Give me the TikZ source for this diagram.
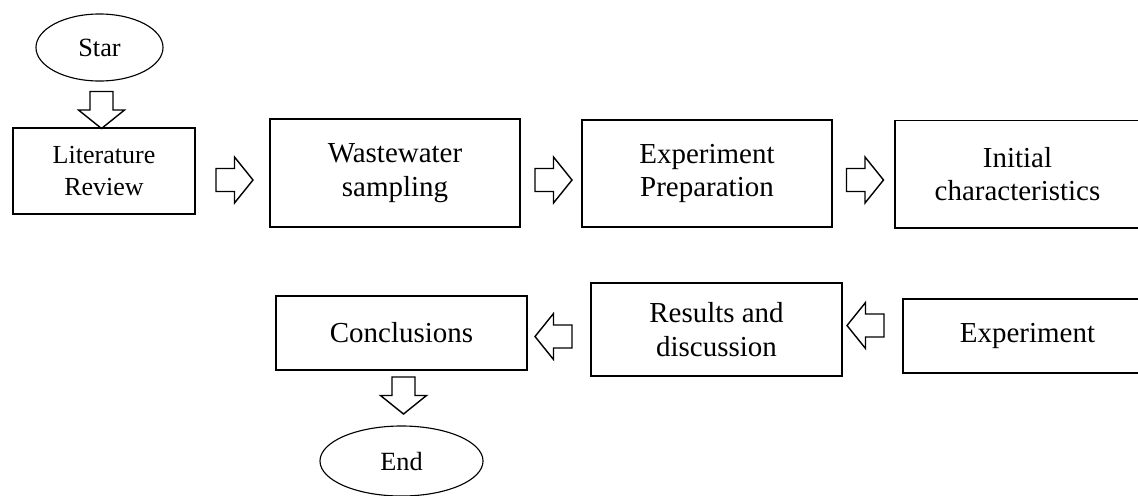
\documentclass[tikz,border=0pt]{standalone}
\usepackage{fontspec}
\setmainfont{Liberation Serif}
\usetikzlibrary{shapes.geometric}

\begin{document}
\begin{tikzpicture}[
  x=0.025cm, y=-0.025cm,
  stage/.style={draw, line width=1.4pt, align=center, inner sep=2pt,
    font=\fontsize{20.6}{23.7}\selectfont},
  smallstage/.style={stage, font=\fontsize{18.5}{22.5}\selectfont},
  terminal/.style={draw, ellipse, line width=.8pt, inner sep=0pt,
    font=\fontsize{18.7}{22}\selectfont},
  pics/fatarrow/.style={code={
    \draw[line width=1pt, line join=miter]
      (-18.5,-11.5) -- (0,-11.5) -- (0,-23) -- (18.5,0)
      -- (0,23) -- (0,11.5) -- (-18.5,11.5) -- cycle;}}
]
  \useasboundingbox (0,0) rectangle (1138,495);
  \clip (0,0) rectangle (1138,495);

  % start and first row
  \node[terminal, minimum width=3.175cm, minimum height=1.675cm] (star) at (99.5,47.5) {Star};
  \node[smallstage, minimum width=4.55cm, minimum height=2.15cm] (lit) at (104,171)
    {Literature\\Review};
  \node[stage, minimum width=6.25cm, minimum height=2.7cm] (waste) at (395,173)
    {Wastewater\\sampling};
  \node[stage, minimum width=6.25cm, minimum height=2.675cm] (prep) at (707,173.5)
    {Experiment\\Preparation};
  \node[stage, minimum width=6.125cm, minimum height=2.675cm] (init) at (1017.5,174)
    {Initial\\characteristics};

  % second row and end
  \node[stage, minimum width=6.225cm, minimum height=1.85cm] (exper) at (1027.5,336)
    {Experiment};
  \node[stage, minimum width=6.275cm, minimum height=2.325cm] (results) at (716.5,329.5)
    {Results and\\discussion};
  \node[stage, minimum width=6.275cm, minimum height=1.85cm] (concl) at (401.5,333)
    {Conclusions};
  \node[terminal, minimum width=4.075cm, minimum height=1.75cm] (end) at (401.5,461) {End};

  % block arrows
  \pic[rotate=-90] (a0) at (101.5,110) {fatarrow};
  \pic (a1) at (234.5,180) {fatarrow};
  \pic (a2) at (553.5,180) {fatarrow};
  \pic (a3) at (865,180) {fatarrow};
  \pic[rotate=180] (a4) at (865.5,325.5) {fatarrow};
  \pic[rotate=180] (a5) at (553.5,336.5) {fatarrow};
  \pic[rotate=-90] (a6) at (403.5,395.5) {fatarrow};
\end{tikzpicture}
\end{document}
